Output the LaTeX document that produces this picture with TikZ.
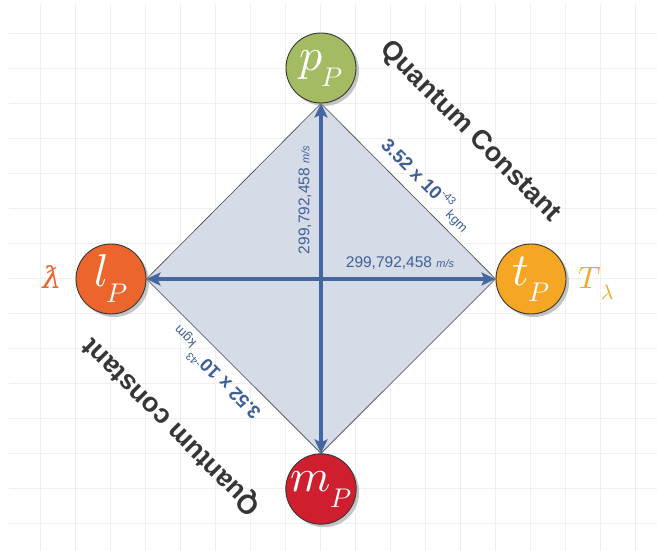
\documentclass[tikz,border=0pt]{standalone}
\usepackage{fontspec}
\usepackage{unicode-math}
\setmainfont{Liberation Sans}
\setmathfont{Latin Modern Math}
\newfontfamily\dvserif{DejaVu Serif}
\usetikzlibrary{arrows.meta,shadows}
\definecolor{gridc}{HTML}{EFEFEF}
\definecolor{dfill}{HTML}{D5DCE8}
\definecolor{dedge}{HTML}{444444}
\definecolor{arrowc}{HTML}{44679F}
\definecolor{labc}{HTML}{3F5F96}
\definecolor{qc}{HTML}{363636}
\definecolor{pgreen}{HTML}{A3BB63}
\definecolor{lorange}{HTML}{EC652D}
\definecolor{tyellow}{HTML}{F5A623}
\definecolor{mred}{HTML}{CF1F2E}
\pgfdeclarelayer{gridlayer}
\pgfdeclarelayer{diaglayer}
\pgfsetlayers{gridlayer,diaglayer,main}
\newcommand\pletter[2]{\fontsize{46}{46}\selectfont$#1$\kern-1pt\raisebox{-16pt}{\fontsize{27}{27}\selectfont$#2$}}
\newcommand\qconst[1]{{\bfseries 3.52 x 10}\raisebox{0.45em}{\fontsize{11}{11}\selectfont -43}\kern2pt\raisebox{-3pt}{\fontsize{13}{13}\selectfont kgm}}
\begin{document}
\begin{tikzpicture}[x=1pt,y=-1pt,
  gridline/.style={draw=gridc,line width=0.8pt},
  planck/.style={circle,minimum size=70pt,inner sep=0pt,draw=qc,line width=0.9pt,text=white,
    drop shadow={shadow xshift=3pt,shadow yshift=-3pt,opacity=0.45}},
  bigarrow/.style={draw=arrowc,line width=4pt,{Stealth[length=14pt,width=13pt,inset=3pt]}-{Stealth[length=14pt,width=13pt,inset=3pt]}},
  speedlab/.style={text=labc,font=\fontsize{15.5}{16}\selectfont,inner sep=0pt},
  qlab/.style={text=labc,font=\fontsize{18.5}{19}\selectfont,inner sep=0pt},
  qtitle/.style={text=qc,font=\fontsize{27}{27}\selectfont\bfseries,inner sep=0pt}]
\useasboundingbox (0,0) rectangle (657,551);
\begin{pgfonlayer}{gridlayer}
\fill[white] (0,0) rectangle (657,551);
\foreach \x in {40,75,...,635} \draw[gridline] (\x,4) -- (\x,551);
\foreach \y in {33,68,...,523} \draw[gridline] (9,\y) -- (657,\y);
\end{pgfonlayer}
\node[planck,fill=pgreen] (pp) at (321,68) {\pletter{p}{P}};
\node[planck,fill=lorange] (lp) at (111,279) {\pletter{l}{P}};
\node[planck,fill=tyellow] (tp) at (531,279) {\pletter{t}{P}};
\node[planck,fill=mred] (mp) at (321,489) {\pletter{m}{P}};
\begin{pgfonlayer}{diaglayer}
\filldraw[fill=dfill,draw=dedge,line width=0.6pt] (pp.south) -- (tp.west) -- (mp.north) -- (lp.east) -- cycle;
\draw[bigarrow] (pp) -- (mp);
\draw[bigarrow] (lp) -- (tp);
\end{pgfonlayer}
\node[speedlab,rotate=90] (vlab) at (305,200) {299,792,458 {\itshape\fontsize{11}{11}\selectfont m/s}};
\node[speedlab] (hlab) at (400,263) {299,792,458 {\itshape\fontsize{11}{11}\selectfont m/s}};
\node[qlab,rotate=-45,anchor=base west] (qa) at (380,146) {\qconst{}};
\node[qlab,rotate=135,anchor=base west] (qb) at (262,412) {\qconst{}};
\node[qtitle,rotate=-45] (qt1) at (470,132) {Quantum Constant};
\node[qtitle,rotate=135] (qt2) at (172,426) {Quantum constant};
\node[text=lorange,inner sep=0pt] (lam) at (52,277) {\dvserif\itshape\fontsize{30}{30}\selectfont ƛ};
\node[text=tyellow,inner sep=0pt] (tlam) at (596,284) {\fontsize{31}{31}\selectfont$T$\raisebox{-11pt}{\fontsize{21}{21}\selectfont$\lambda$}};
\end{tikzpicture}
\end{document}
